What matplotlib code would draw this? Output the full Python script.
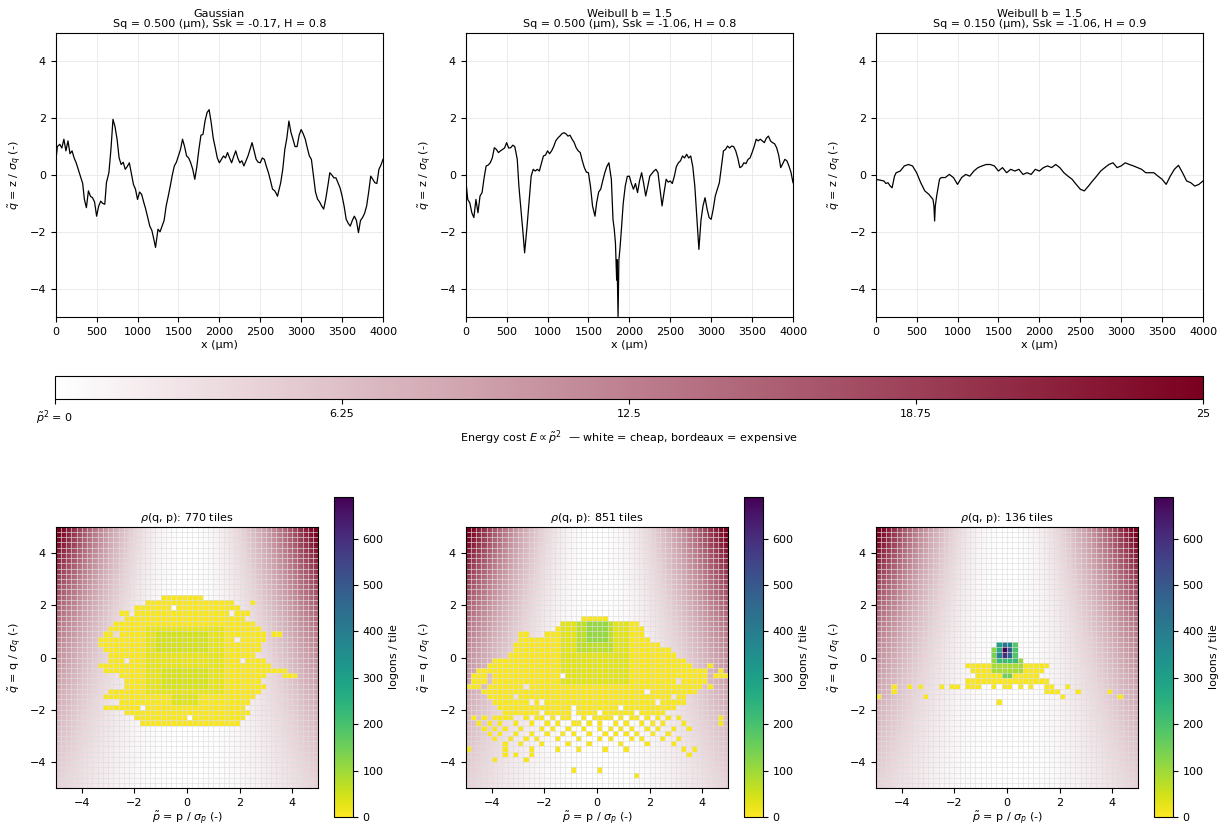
"""
Surface profiles (top), energy-cost scale (middle) and occupied phase-space
tiles rho(q, p) on top of the energy landscape (bottom).
"""

import matplotlib
matplotlib.use("Agg")
import matplotlib.pyplot as plt
import numpy as np
from matplotlib.cm import ScalarMappable
from matplotlib.colors import LinearSegmentedColormap, Normalize

plt.rcParams["font.size"] = 8
plt.rcParams["axes.titlesize"] = 8
plt.rcParams["axes.labelsize"] = 8
plt.rcParams["xtick.labelsize"] = 8
plt.rcParams["ytick.labelsize"] = 8

# ---------------------------------------------------------------------------
# Profiles: (x in um, q = z / sigma_q)
# ---------------------------------------------------------------------------

PROFILE_GAUSS = [
    (0, 0.43), (20, 1.0), (50, 1.08), (75, 0.95), (100, 1.26), (125, 0.85),
    (150, 1.2), (175, 0.75), (200, 0.85), (225, 0.6), (250, 0.43), (275, 0.2),
    (300, -0.04), (330, -0.3), (350, -0.85), (375, -1.15), (400, -0.56),
    (425, -0.75), (450, -0.8), (475, -0.95), (500, -1.45), (525, -1.1),
    (550, -0.92), (575, -1.0), (600, -1.03), (620, -0.27), (650, 0.08),
    (675, 0.9), (700, 1.96), (725, 1.7), (750, 1.26), (775, 0.6), (800, 0.37),
    (825, 0.45), (850, 0.2), (875, 0.3), (900, 0.43), (925, 0.05),
    (950, -0.33), (975, -0.5), (1000, -0.86), (1025, -0.6), (1050, -0.68),
    (1075, -0.95), (1100, -1.2), (1125, -1.5), (1150, -1.8), (1175, -1.95),
    (1200, -2.27), (1220, -2.55), (1250, -1.91), (1275, -2.0), (1300, -1.8),
    (1325, -1.6), (1350, -1.09), (1375, -0.75), (1400, -0.39), (1425, 0.0),
    (1450, 0.32), (1475, 0.45), (1500, 0.67), (1525, 0.9), (1550, 1.26),
    (1575, 1.0), (1600, 0.67), (1625, 0.6), (1650, 0.43), (1675, 0.2),
    (1700, -0.15), (1725, 0.3), (1750, 0.9), (1775, 1.4), (1800, 1.43),
    (1825, 1.9), (1850, 2.2), (1875, 2.3), (1900, 1.85), (1925, 1.3),
    (1950, 0.96), (1975, 0.6), (2000, 0.43), (2025, 0.55), (2050, 0.67),
    (2075, 0.6), (2100, 0.79), (2125, 0.6), (2150, 0.43), (2175, 0.65),
    (2200, 0.85), (2225, 0.6), (2250, 0.43), (2275, 0.5), (2300, 0.32),
    (2325, 0.5), (2350, 0.67), (2375, 0.9), (2400, 1.14), (2425, 0.85),
    (2450, 0.55), (2475, 0.45), (2500, 0.43), (2525, 0.6), (2550, 0.55),
    (2575, 0.3), (2600, 0.08), (2625, -0.2), (2650, -0.5), (2675, -0.55),
    (2700, -0.68), (2710, -0.75), (2750, -0.27), (2775, 0.2), (2800, 0.9),
    (2825, 1.3), (2850, 1.9), (2875, 1.5), (2900, 1.26), (2925, 1.0),
    (2950, 1.0), (2975, 1.4), (3000, 1.6), (3025, 1.45), (3050, 1.26),
    (3075, 0.95), (3100, 0.67), (3125, 0.55), (3150, -0.04), (3175, -0.6),
    (3200, -0.85), (3225, -0.95), (3250, -1.09), (3275, -1.2), (3300, -0.85),
    (3325, -0.4), (3350, 0.08), (3375, 0.0), (3400, -0.1), (3425, -0.1),
    (3450, -0.27), (3475, -0.45), (3500, -0.74), (3525, -1.1), (3550, -1.56),
    (3575, -1.7), (3600, -1.8), (3625, -1.6), (3650, -1.45), (3675, -1.6),
    (3700, -2.03), (3725, -1.6), (3750, -1.5), (3775, -1.35), (3800, -1.09),
    (3825, -0.6), (3850, -0.04), (3875, -0.15), (3900, -0.27), (3925, -0.3),
    (3950, 0.2), (3975, 0.35), (4000, 0.55),
]

PROFILE_WEIB_A = [
    (0, -0.15), (25, -0.86), (50, -0.98), (75, -1.33), (100, -1.5),
    (125, -0.86), (150, -1.33), (175, -0.74), (200, -0.62), (225, -0.1),
    (250, 0.32), (275, 0.35), (300, 0.43), (325, 0.6), (350, 0.96),
    (375, 0.9), (400, 0.79), (425, 0.85), (450, 0.9), (475, 0.95),
    (500, 1.14), (525, 0.95), (550, 0.96), (575, 1.05), (600, 1.0),
    (630, 0.55), (650, -0.39), (675, -1.2), (700, -2.03), (720, -2.74),
    (750, -1.8), (775, -0.9), (800, -0.04), (825, 0.2), (850, 0.14),
    (875, 0.2), (900, 0.14), (925, 0.4), (950, 0.67), (975, 0.7),
    (1000, 0.85), (1025, 0.75), (1050, 0.85), (1075, 1.0), (1100, 1.2),
    (1125, 1.3), (1150, 1.37), (1175, 1.45), (1200, 1.49), (1225, 1.45),
    (1250, 1.37), (1275, 1.4), (1300, 1.26), (1325, 1.15), (1350, 0.96),
    (1375, 0.85), (1400, 0.79), (1425, 0.5), (1450, 0.26), (1475, 0.1),
    (1500, 0.08), (1525, -0.4), (1550, -1.09), (1580, -1.45), (1600, -0.98),
    (1625, -0.6), (1650, -0.5), (1675, -0.2), (1700, 0.08), (1725, 0.3),
    (1750, 0.43), (1780, -0.15), (1800, -1.56), (1815, -1.9), (1830, -2.39),
    (1845, -3.7), (1850, -2.98), (1862, -4.99), (1872, -3.0), (1885, -2.6),
    (1900, -2.03), (1925, -1.0), (1950, -0.39), (1975, -0.05), (2000, -0.04),
    (2025, -0.3), (2050, -0.5), (2075, -0.3), (2100, -0.62), (2125, -0.2),
    (2150, 0.08), (2175, -0.3), (2200, -0.74), (2225, -0.4), (2250, -0.04),
    (2275, 0.05), (2300, 0.14), (2325, 0.2), (2350, 0.08), (2375, -0.5),
    (2400, -1.09), (2425, -0.6), (2450, -0.15), (2475, -0.25), (2500, -0.21),
    (2525, -0.3), (2550, -0.04), (2575, 0.3), (2600, 0.43), (2625, 0.5),
    (2650, 0.67), (2675, 0.6), (2700, 0.73), (2725, 0.6), (2750, 0.67),
    (2775, 0.3), (2800, -0.39), (2825, -1.5), (2850, -2.62), (2875, -1.6),
    (2900, -1.09), (2925, -0.8), (2950, -1.2), (2975, -1.5), (3000, -1.56),
    (3025, -1.2), (3050, -0.74), (3075, -0.5), (3100, -0.27), (3125, 0.3),
    (3150, 0.85), (3175, 0.9), (3200, 1.02), (3225, 0.95), (3250, 1.02),
    (3275, 1.0), (3300, 0.85), (3325, 0.6), (3350, 0.26), (3375, 0.3),
    (3400, 0.43), (3425, 0.4), (3450, 0.55), (3475, 0.6), (3500, 0.79),
    (3525, 1.0), (3550, 1.26), (3575, 1.2), (3600, 1.26), (3625, 1.2),
    (3650, 1.14), (3675, 1.3), (3700, 1.37), (3725, 1.2), (3750, 1.14),
    (3775, 1.1), (3800, 0.96), (3825, 0.7), (3850, 0.26), (3875, 0.4),
    (3900, 0.55), (3925, 0.5), (3950, 0.32), (3975, 0.1), (4000, -0.27),
]

PROFILE_WEIB_B = [
    (0, -0.15), (50, -0.18), (100, -0.21), (125, -0.3), (150, -0.27),
    (175, -0.38), (200, -0.45), (230, -0.04), (250, 0.08), (300, 0.14),
    (350, 0.32), (400, 0.37), (450, 0.32), (500, 0.08), (550, -0.27),
    (600, -0.56), (650, -0.68), (700, -0.86), (712, -1.1), (720, -1.62),
    (728, -1.1), (745, -0.74), (780, -0.15), (800, -0.09), (850, -0.09),
    (900, 0.02), (950, -0.09), (1000, -0.33), (1050, -0.09), (1100, 0.02),
    (1150, -0.04), (1200, 0.14), (1250, 0.26), (1300, 0.32), (1350, 0.37),
    (1400, 0.37), (1450, 0.32), (1500, 0.14), (1550, 0.26), (1600, 0.08),
    (1650, 0.2), (1700, 0.14), (1750, 0.2), (1800, 0.02), (1850, 0.08),
    (1900, 0.02), (1950, 0.2), (2000, 0.14), (2050, 0.26), (2100, 0.32),
    (2150, 0.26), (2200, 0.37), (2250, 0.26), (2300, 0.08), (2350, -0.04),
    (2400, -0.15), (2450, -0.33), (2500, -0.5), (2550, -0.56), (2600, -0.39),
    (2650, -0.21), (2700, -0.04), (2750, 0.14), (2800, 0.26), (2850, 0.37),
    (2900, 0.43), (2950, 0.26), (3000, 0.32), (3050, 0.43), (3100, 0.37),
    (3150, 0.32), (3200, 0.26), (3250, 0.2), (3300, 0.08), (3350, 0.08),
    (3400, 0.08), (3450, -0.04), (3500, -0.15), (3550, -0.33), (3600, -0.04),
    (3650, 0.2), (3700, 0.34), (3750, 0.08), (3800, -0.21), (3850, -0.27),
    (3900, -0.39), (3950, -0.33), (4000, -0.21),
]

PROFILE_TITLES = [
    "Gaussian\nSq = 0.500 (µm), Ssk = -0.17, H = 0.8",
    "Weibull b = 1.5\nSq = 0.500 (µm), Ssk = -1.06, H = 0.8",
    "Weibull b = 1.5\nSq = 0.150 (µm), Ssk = -1.06, H = 0.9",
]

# ---------------------------------------------------------------------------
# Occupied tiles.
# rows: (q centre, [(p_from, p_to), ...])   single cells have p_from == p_to
# hot:  (p_from, p_to, q_from, q_to, logons per tile)
# ---------------------------------------------------------------------------

TILES_GAUSS = [
    (2.3, [(-0.9, 0.5)]),
    (2.1, [(-1.5, 1.7), (2.5, 2.5)]),
    (1.9, [(-1.9, 1.9)]),
    (1.7, [(-2.5, -2.3), (-1.9, 2.3)]),
    (1.5, [(-2.3, 2.1)]),
    (1.3, [(-2.7, 2.5)]),
    (1.1, [(-2.9, 2.7)]),
    (0.9, [(-3.1, 2.9), (3.3, 3.5)]),
    (0.7, [(-3.3, 2.9)]),
    (0.5, [(-3.3, 2.7)]),
    (0.3, [(-3.1, 2.7)]),
    (0.1, [(-2.9, 2.5)]),
    (-0.1, [(-2.9, 2.9)]),
    (-0.3, [(-3.3, 3.1)]),
    (-0.5, [(-3.1, 3.3), (3.5, 3.7)]),
    (-0.7, [(-2.5, 2.9), (3.7, 4.1)]),
    (-0.9, [(-2.3, 2.7)]),
    (-1.1, [(-2.3, 2.9)]),
    (-1.3, [(-2.9, 2.7)]),
    (-1.5, [(-3.1, 2.5)]),
    (-1.7, [(-2.5, 2.3)]),
    (-1.9, [(-3.1, 2.1)]),
    (-2.1, [(-2.3, 2.3)]),
    (-2.3, [(-1.9, 2.1)]),
    (-2.5, [(-1.7, 1.9)]),
]
HOLES_GAUSS = [(-0.5, 1.9), (-2.3, -0.1), (-1.7, -1.9), (2.1, -0.1),
               (1.9, 0.7), (1.7, 1.7), (0.1, -2.3), (-2.5, 1.5), (-2.7, 0.9)]
HOT_GAUSS = [(-1.5, 1.3, -1.3, 1.1, 25), (-1.1, 0.7, 0.3, 0.9, 45),
             (-0.9, 0.7, -1.1, -0.5, 42), (-0.5, 0.3, -1.7, -1.5, 35)]

TILES_WEIB_A = [
    (1.5, [(-0.5, 0.3)]),
    (1.3, [(-1.3, 1.5)]),
    (1.1, [(-1.5, 1.7)]),
    (0.9, [(-2.9, -2.7), (-1.9, 1.7)]),
    (0.7, [(-2.9, 1.9)]),
    (0.5, [(-3.1, 2.3)]),
    (0.3, [(-3.1, 2.7)]),
    (0.1, [(-3.3, 2.9)]),
    (-0.1, [(-3.9, 3.3)]),
    (-0.3, [(-4.1, 3.5), (4.3, 4.3)]),
    (-0.5, [(-4.5, 3.9), (4.1, 4.1), (4.7, 4.7)]),
    (-0.7, [(-4.7, -4.3), (-3.9, 4.1), (4.5, 4.9)]),
    (-0.9, [(-4.7, 4.1)]),
    (-1.1, [(-4.9, -4.5), (-4.1, 3.9), (4.3, 4.3)]),
    (-1.3, [(-4.3, 3.7)]),
    (-1.5, [(-4.1, 3.3)]),
    (-1.7, [(-3.9, 3.3)]),
    (-1.9, [(-3.7, 2.9)]),
    (-2.1, [(-3.5, -2.3), (-1.9, 2.5)]),
    (-2.3, [(-4.7, -4.7), (-4.3, -4.3), (-3.9, -3.3), (-2.7, -2.7),
            (-2.3, -2.1), (-1.7, -1.7), (-1.3, -1.1), (-0.5, -0.5),
            (-0.1, 0.5), (0.9, 0.9), (1.3, 1.5), (1.9, 1.9), (2.3, 2.3),
            (2.7, 2.7), (3.1, 3.1), (4.7, 4.7)]),
    (-2.5, [(-4.5, -4.5), (-4.1, -4.1), (-3.7, -3.7), (-3.1, -3.1),
            (-2.5, -2.5), (-1.9, -1.9), (-1.5, -1.5), (-0.9, -0.7),
            (-0.3, -0.3), (0.1, 0.1), (0.7, 0.7), (1.1, 1.1), (1.7, 1.7),
            (2.1, 2.1), (2.5, 2.5), (3.3, 3.3), (4.7, 4.7)]),
    (-2.7, [(-4.3, -4.3), (-3.9, -3.9), (-3.5, -3.5), (-2.9, -2.9),
            (-2.1, -2.1), (-1.7, -1.7), (-1.1, -1.1), (-0.5, -0.5),
            (0.1, 0.1), (0.5, 0.5), (0.9, 0.9), (1.3, 1.3), (1.9, 1.9),
            (2.3, 2.3), (2.9, 2.9), (3.5, 3.5)]),
    (-2.9, [(-4.1, -4.1), (-3.7, -3.7), (-3.1, -3.1), (-2.5, -2.5),
            (-1.9, -1.9), (-1.3, -1.3), (-0.9, -0.9), (-0.3, -0.3),
            (0.3, 0.3), (0.7, 0.7), (1.1, 1.1), (1.5, 1.5), (2.1, 2.1),
            (2.7, 2.7)]),
    (-3.1, [(-3.9, -3.9), (-3.3, -3.3), (-2.7, -2.7), (-2.3, -2.3),
            (-1.5, -1.5), (-0.7, -0.7), (0.1, 0.1), (0.5, 0.5), (1.3, 1.3),
            (1.7, 1.7), (2.5, 2.5), (3.1, 3.1)]),
    (-3.3, [(-3.5, -3.5), (-2.9, -2.9), (-2.1, -2.1), (-1.1, -1.1),
            (-0.3, -0.3), (0.9, 0.9), (1.9, 1.9), (2.9, 2.9)]),
    (-3.5, [(-4.9, -4.9), (-3.5, -3.5), (-2.5, -2.5), (-1.5, -1.5),
            (-0.7, -0.7), (0.3, 0.3), (1.1, 1.1), (3.3, 3.3), (3.7, 3.7)]),
    (-3.7, [(-3.5, -3.5), (-3.1, -3.1), (-2.5, -2.5), (3.5, 3.5)]),
    (-3.9, [(-3.9, -3.9), (-2.7, -2.7)]),
    (-4.3, [(-0.9, -0.9), (0.1, 0.1)]),
    (-4.5, [(1.5, 1.5)]),
]
HOLES_WEIB_A = [(-1.3, -0.7), (-2.5, -1.7), (-2.1, -1.7), (1.9, -1.3),
                (2.3, -1.7), (-3.1, -1.5), (0.9, -1.9), (-0.9, -1.9),
                (-2.7, -1.1), (3.1, -0.9), (-4.1, -0.9), (1.5, -2.1),
                (0.1, -2.1), (-0.9, -2.1), (2.9, -1.5)]
HOT_WEIB_A = [(-1.3, 1.1, -0.9, 1.3, 30), (-0.7, 0.5, 0.3, 1.3, 70),
              (-0.3, 0.3, 0.7, 1.3, 110)]

TILES_WEIB_B = [
    (0.5, [(-0.3, 0.3)]),
    (0.3, [(-0.5, 0.3)]),
    (0.1, [(-0.5, 0.3)]),
    (-0.1, [(-0.5, 0.5)]),
    (-0.3, [(-1.5, 1.5)]),
    (-0.5, [(-1.3, 1.3)]),
    (-0.7, [(-1.1, 1.1)]),
    (-0.9, [(-1.5, 1.5)]),
    (-1.1, [(-4.3, -4.3), (-3.7, -3.7), (-3.3, -3.3), (-2.5, -2.5),
            (-2.1, -1.9), (-1.5, -1.1), (-0.5, -0.5), (-0.1, 0.1),
            (0.5, 0.5), (0.9, 0.9), (1.5, 1.7), (2.3, 2.3)]),
    (-1.3, [(-4.3, -4.3), (1.5, 1.9), (2.7, 2.7), (3.9, 3.9)]),
    (-1.5, [(-4.9, -4.9), (-3.1, -3.1), (2.1, 2.1), (4.3, 4.3)]),
    (-1.7, [(-0.3, -0.3)]),
]
HOLES_WEIB_B = []
HOT_WEIB_B = [
    (-0.3, -0.3, 0.5, 0.5, 300), (-0.1, -0.1, 0.5, 0.5, 420),
    (0.1, 0.1, 0.5, 0.5, 380), (0.3, 0.3, 0.5, 0.5, 180),
    (-0.5, -0.5, 0.3, 0.3, 120), (-0.3, -0.3, 0.3, 0.3, 260),
    (-0.1, -0.1, 0.3, 0.3, 690), (0.1, 0.1, 0.3, 0.3, 500),
    (0.3, 0.3, 0.3, 0.3, 200),
    (-0.5, -0.5, 0.1, 0.1, 140), (-0.3, -0.3, 0.1, 0.1, 380),
    (-0.1, -0.1, 0.1, 0.1, 600), (0.1, 0.1, 0.1, 0.1, 480),
    (0.3, 0.3, 0.1, 0.1, 190),
    (-0.5, 0.5, -0.1, -0.1, 110), (-0.3, 0.3, -0.1, -0.1, 220),
    (-0.5, 0.5, -0.5, -0.3, 90), (-0.1, 0.1, -0.7, -0.7, 150),
]

TILE_TITLES = ["770 tiles", "851 tiles", "136 tiles"]
BASE_LOGONS = 8
LOGON_MAX = 690

# ---------------------------------------------------------------------------
# Phase-space grid and energy landscape
# ---------------------------------------------------------------------------

N_TILES = 50
P_EDGES = np.linspace(-5, 5, N_TILES + 1)
Q_EDGES = np.linspace(-5, 5, N_TILES + 1)
P_CENTRES = 0.5 * (P_EDGES[:-1] + P_EDGES[1:])
Q_CENTRES = 0.5 * (Q_EDGES[:-1] + Q_EDGES[1:])

E_MAX = 25.0
E_TICKS = [0, 6.25, 12.5, 18.75, 25]
E_TICKLABELS = [r"$\tilde{p}^2$ = 0", "6.25", "12.5", "18.75", "25"]
# shading strength of the landscape, weak at the bottom, full at the top
SHADE_BOTTOM = 0.18
SHADE_TOP = 1.1

ENERGY_CMAP = LinearSegmentedColormap.from_list("bordeaux", ["#ffffff", "#7b0020"])
GRID_COLOR = "#dedede"


def tile_counts(rows, holes, hot):
    counts = np.full((N_TILES, N_TILES), np.nan)
    for q, ranges in rows:
        r = np.argmin(np.abs(Q_CENTRES - q))
        for p0, p1 in ranges:
            cols = (P_CENTRES > p0 - 0.05) & (P_CENTRES < p1 + 0.05)
            counts[r, cols] = BASE_LOGONS
    for p, q in holes:
        counts[np.argmin(np.abs(Q_CENTRES - q)), np.argmin(np.abs(P_CENTRES - p))] = np.nan
    for p0, p1, q0, q1, val in hot:
        rsel = (Q_CENTRES > q0 - 0.05) & (Q_CENTRES < q1 + 0.05)
        csel = (P_CENTRES > p0 - 0.05) & (P_CENTRES < p1 + 0.05)
        block = counts[np.ix_(rsel, csel)]
        block[~np.isnan(block)] = val
        counts[np.ix_(rsel, csel)] = block
    return np.ma.masked_invalid(counts)


def energy_field(n=300):
    p = np.linspace(-5, 5, n)
    q = np.linspace(-5, 5, n)
    pp, qq = np.meshgrid(p, q)
    shade = SHADE_BOTTOM * (SHADE_TOP / SHADE_BOTTOM) ** ((qq + 5) / 10)
    return np.clip(pp ** 2 * shade, 0, E_MAX)


def plot_profile(ax, profile, title):
    arr = np.array(profile)
    ax.plot(arr[:, 0], arr[:, 1], color="black", lw=0.9)
    ax.set_xlim(0, 4000)
    ax.set_ylim(-5, 5)
    ax.set_xticks(np.arange(0, 4001, 500))
    ax.set_yticks([-4, -2, 0, 2, 4])
    ax.grid(True, color="#e8e8e8", lw=0.6)
    ax.set_axisbelow(True)
    ax.set_xlabel("x (µm)", labelpad=2)
    ax.set_ylabel(r"$\tilde{q}$ = z / $\sigma_q$ (-)")
    ax.set_title(title, pad=4, linespacing=1.1)


def plot_tiles(ax, cax, counts, title):
    ax.imshow(energy_field(), cmap=ENERGY_CMAP, vmin=0, vmax=E_MAX,
              extent=[-5, 5, -5, 5], origin="lower", aspect="auto",
              interpolation="bilinear", zorder=0)
    mesh = ax.pcolormesh(P_EDGES, Q_EDGES, counts, cmap="viridis_r",
                         vmin=0, vmax=LOGON_MAX, zorder=1)
    ax.vlines(P_EDGES, -5, 5, colors=GRID_COLOR, lw=0.45, zorder=2)
    ax.hlines(Q_EDGES, -5, 5, colors=GRID_COLOR, lw=0.45, zorder=2)
    ax.set_xlim(-5, 5)
    ax.set_ylim(-5, 5)
    ax.set_xticks([-4, -2, 0, 2, 4])
    ax.set_yticks([-4, -2, 0, 2, 4])
    ax.set_xlabel(r"$\tilde{p}$ = p / $\sigma_p$ (-)", labelpad=1)
    ax.set_ylabel(r"$\tilde{q}$ = q / $\sigma_q$ (-)")
    ax.set_title(r"$\rho$(q, p): " + title, pad=4)
    cb = plt.colorbar(mesh, cax=cax)
    cb.set_ticks(np.arange(0, 601, 100))
    cb.set_label("logons / tile")


def main():
    W, H = 1231, 832
    fig = plt.figure(figsize=(W / 100, H / 100), dpi=100)

    lefts = [55.7, 465.7, 875.7]
    profiles = [PROFILE_GAUSS, PROFILE_WEIB_A, PROFILE_WEIB_B]
    for left, prof, title in zip(lefts, profiles, PROFILE_TITLES):
        ax = fig.add_axes([left / W, 1 - 317 / H, 327.3 / W, 284 / H])
        plot_profile(ax, prof, title)

    # energy scale
    cax_e = fig.add_axes([55 / W, 1 - 399 / H, 1148 / W, 23 / H])
    sm = ScalarMappable(norm=Normalize(0, E_MAX), cmap=ENERGY_CMAP)
    cb = fig.colorbar(sm, cax=cax_e, orientation="horizontal")
    cb.set_ticks(E_TICKS)
    cb.set_ticklabels(E_TICKLABELS)
    cb.set_label(r"Energy cost $E \propto \tilde{p}^2$  — white = cheap, bordeaux = expensive",
                 labelpad=1)

    tiles = [
        tile_counts(TILES_GAUSS, HOLES_GAUSS, HOT_GAUSS),
        tile_counts(TILES_WEIB_A, HOLES_WEIB_A, HOT_WEIB_A),
        tile_counts(TILES_WEIB_B, HOLES_WEIB_B, HOT_WEIB_B),
    ]
    for left, counts, title in zip(lefts, tiles, TILE_TITLES):
        ax = fig.add_axes([left / W, 1 - 788.3 / H, 262.6 / W, 261.6 / H])
        cax = fig.add_axes([(left + 278.6) / W, 1 - 817 / H, 18.5 / W, 320 / H])
        plot_tiles(ax, cax, counts, title)

    fig.savefig("out.png", dpi=100)
    plt.close(fig)


if __name__ == "__main__":
    main()
